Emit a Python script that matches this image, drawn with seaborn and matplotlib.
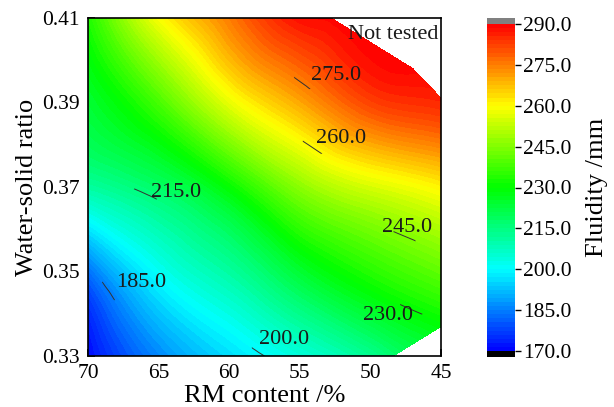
import numpy as np
import matplotlib
matplotlib.use("Agg")
import matplotlib.pyplot as plt
import matplotlib.tri as mtri
from matplotlib.patches import Ellipse
import seaborn as sns

# -----------------------------
# Data: RM content (%), water-solid ratio, fluidity (mm)
# (last five points are the edge mixes that bound the tested region)
# -----------------------------
rm_content = [70, 70, 70, 70, 70,
              65, 65, 65, 65, 65,
              60, 60, 60, 60, 60,
              55, 55, 55, 55, 55,
              50, 50, 50, 50,
              45, 45,
              52.8, 47, 45, 45, 48.4]
ws_ratio = [0.33, 0.35, 0.37, 0.39, 0.41,
            0.33, 0.35, 0.37, 0.39, 0.41,
            0.33, 0.35, 0.37, 0.39, 0.41,
            0.33, 0.35, 0.37, 0.39, 0.41,
            0.33, 0.35, 0.37, 0.39,
            0.35, 0.37,
            0.41, 0.398, 0.391, 0.337, 0.33]
fluidity = [171, 183, 211, 224, 233,
            186, 201, 218, 238, 259,
            196, 211, 230, 257, 275,
            204, 224, 246, 270, 288,
            213, 234, 255, 282,
            241, 261,
            289, 289, 286, 229, 217]

contour_levels = [185, 200, 215, 230, 245, 260, 275]
cbar_ticks = [170, 185, 200, 215, 230, 245, 260, 275, 290]
x_ticks = [70, 65, 60, 55, 50, 45]
y_ticks = [0.33, 0.35, 0.37, 0.39, 0.41]

# -----------------------------
# Style
# -----------------------------
sns.set_theme(style="ticks")
plt.rcParams["font.family"] = ["Liberation Serif", "DejaVu Serif"]

cmap = sns.blend_palette(["#0000ff", "#00ffff", "#00ff00", "#ffff00", "#ff0000"],
                         n_colors=256, as_cmap=True)
cmap = cmap.with_extremes(under="black", over="#808080")

fig = plt.figure(figsize=(6.14, 4.07), dpi=100)
ax = fig.add_axes([88 / 614, 51 / 407, 353 / 614, 338 / 407])

# -----------------------------
# Triangulated contour (scaled axes for Delaunay + smooth refinement)
# -----------------------------
x = np.array(rm_content, dtype=float)
y = np.array(ws_ratio, dtype=float)
z = np.array(fluidity, dtype=float)
tri_norm = mtri.Triangulation(x / 5, y / 0.02)
refiner = mtri.UniformTriRefiner(tri_norm)
tri_fine, z_fine = refiner.refine_field(z, subdiv=3)
z_fine = np.clip(z_fine, 170.5, 289.5)
tri = mtri.Triangulation(tri_fine.x * 5, tri_fine.y * 0.02,
                         triangles=tri_fine.triangles)

levels = np.arange(170, 290.01, 1.5)
cf = ax.tricontourf(tri, z_fine, levels=levels, cmap=cmap, extend="both")

# short contour strokes next to the labels
stroke_pos = [(68.2, 0.3461), (57.5, 0.3317), (66.0, 0.3679), (47.0, 0.3418),
              (47.7, 0.3575), (53.9, 0.3804), (54.5, 0.3960)]
label_pos = [(66.2, 0.3473), (56.1, 0.3338), (63.75, 0.3688), (48.75, 0.3395),
             (47.4, 0.3605), (52.1, 0.3814), (52.45, 0.3965)]
for lev, (sx, sy), (tx, ty) in zip(contour_levels, stroke_pos, label_pos):
    cl = ax.tricontour(tri, z_fine, levels=[lev], colors="#333333", linewidths=0.7)
    clip = Ellipse((sx, sy), 1.8, 0.0058, transform=ax.transData)
    cl.set_clip_path(clip)
    ax.text(tx, ty, f"{lev:.1f}", ha="center", va="center",
            fontsize=16, color="#1a1a1a")

ax.text(45.2, 0.4062, "Not tested", ha="right", va="center",
        fontsize=16, color="#1a1a1a")

# -----------------------------
# Axes
# -----------------------------
ax.set_xlim(70, 45)
ax.set_ylim(0.33, 0.41)
ax.set_xticks(x_ticks)
ax.set_yticks(y_ticks)
ax.set_yticklabels([f"{v:.2f}" for v in y_ticks])
ax.tick_params(direction="in", length=5, width=1.2, labelsize=15.5, pad=6,
               color="black", labelcolor="black")
for sp in ax.spines.values():
    sp.set_color("black")
    sp.set_linewidth(1.2)
ax.set_xlabel("RM content /%", fontsize=19, labelpad=1, color="black")
ax.set_ylabel("Water-solid ratio", fontsize=19, labelpad=3, color="black")

# -----------------------------
# Colorbar
# -----------------------------
cax = fig.add_axes([487 / 614, 50 / 407, 28 / 614, 339 / 407])
cb = fig.colorbar(cf, cax=cax, extend="both", extendrect=True,
                  extendfrac=0.018, ticks=cbar_ticks, format="%.1f")
cb.outline.set_visible(False)
cax.tick_params(direction="out", length=4, width=1, labelsize=15.5, pad=2,
                color="black", labelcolor="black")
cb.set_label("Fluidity /mm", fontsize=19, labelpad=10, color="black")

fig.savefig("out.png", dpi=100)
